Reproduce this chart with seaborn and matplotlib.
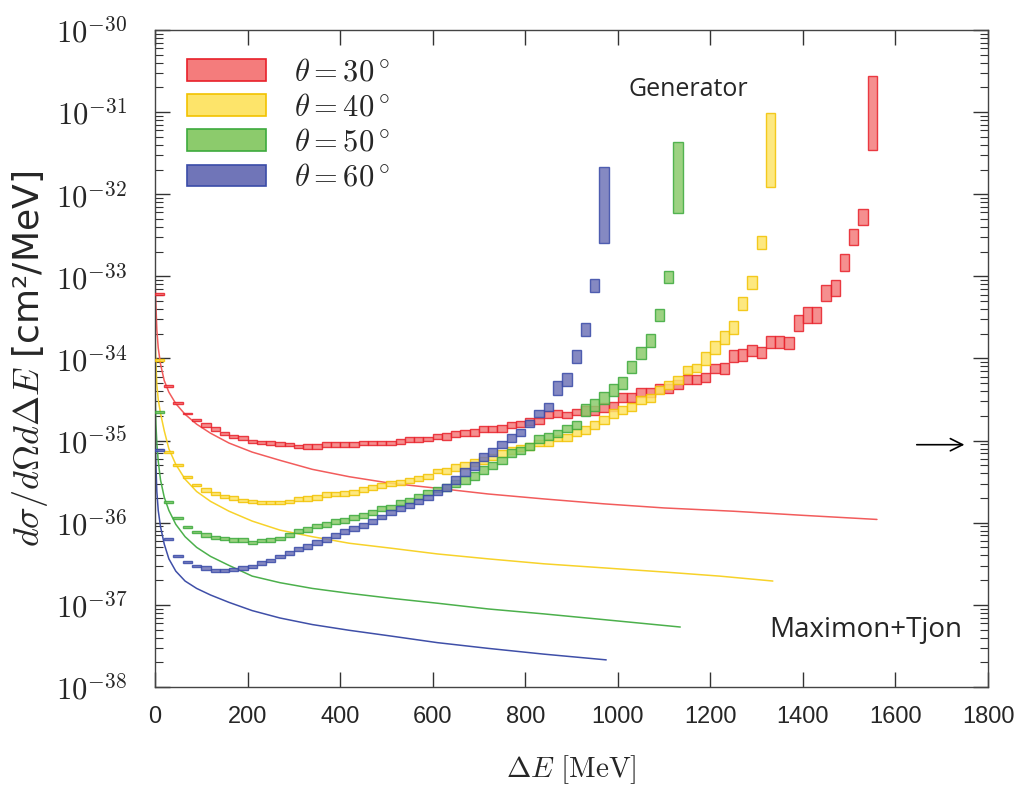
import numpy as np
import pandas as pd
import matplotlib
matplotlib.use("Agg")
import matplotlib.pyplot as plt
import seaborn as sns
from matplotlib.patches import Patch
from matplotlib.ticker import LogLocator, NullFormatter, FixedLocator

# ---------------- data ----------------
angles = [30, 40, 50, 60]
legend_labels = [r"$\theta = 30^\circ$", r"$\theta = 40^\circ$",
                 r"$\theta = 50^\circ$", r"$\theta = 60^\circ$"]
bin_width = 20.0  # MeV

# Generator: log10(dsigma/dOmega dDeltaE) per 20 MeV bin, starting at 0 MeV
gen_log_30 = [-33.22, -34.34, -34.54, -34.67, -34.75, -34.81, -34.86, -34.91, -34.95, -34.97,
              -35.01, -35.02, -35.03, -35.04, -35.05, -35.07, -35.07, -35.07, -35.05, -35.05,
              -35.05, -35.05, -35.03, -35.03, -35.03, -35.03, -35.01, -34.99, -34.99, -34.98,
              -34.95, -34.95, -34.92, -34.91, -34.90, -34.86, -34.86, -34.85, -34.81, -34.80,
              -34.77, -34.76, -34.68, -34.67, -34.69, -34.65, -34.63, -34.63, -34.60, -34.58,
              -34.48, -34.48, -34.41, -34.41, -34.36, -34.36, -34.32, -34.26, -34.26, -34.23,
              -34.12, -34.12, -33.97, -33.96, -33.90, -33.93, -33.80, -33.80, -33.81, -33.57,
              -33.47, -33.47, -33.20, -33.14, -32.83, -32.52, -32.28, -31.01]
gen_err_30 = ([0.012] * 5 + [0.02] * 11 + [0.028] * 15 + [0.04] * 15 + [0.055] * 15
              + [0.07] * 8 + [0.1] * 8 + [0.45])

gen_log_40 = [-34.02, -35.14, -35.30, -35.44, -35.54, -35.60, -35.64, -35.68, -35.70, -35.73,
              -35.74, -35.75, -35.75, -35.75, -35.74, -35.71, -35.70, -35.69, -35.66, -35.65,
              -35.64, -35.63, -35.60, -35.57, -35.55, -35.52, -35.51, -35.49, -35.46, -35.44,
              -35.37, -35.37, -35.33, -35.30, -35.27, -35.24, -35.20, -35.16, -35.12, -35.09,
              -35.07, -35.03, -35.02, -34.97, -34.96, -34.90, -34.87, -34.81, -34.75, -34.67,
              -34.63, -34.59, -34.51, -34.48, -34.38, -34.32, -34.26, -34.14, -34.12, -34.00,
              -33.87, -33.74, -33.62, -33.33, -33.08, -32.59, -31.46]
gen_err_40 = ([0.012] * 5 + [0.02] * 11 + [0.03] * 15 + [0.04] * 15 + [0.05] * 13
              + [0.08] * 7 + [0.45])

gen_log_50 = [-34.65, -35.75, -35.94, -36.05, -36.11, -36.15, -36.18, -36.19, -36.21, -36.21,
              -36.24, -36.22, -36.21, -36.19, -36.15, -36.10, -36.08, -36.04, -36.02, -35.99,
              -35.97, -35.94, -35.91, -35.88, -35.83, -35.81, -35.75, -35.73, -35.68, -35.63,
              -35.59, -35.57, -35.52, -35.48, -35.43, -35.36, -35.30, -35.24, -35.15, -35.12,
              -35.07, -34.98, -34.95, -34.91, -34.85, -34.81, -34.63, -34.57, -34.48, -34.38,
              -34.30, -34.10, -33.93, -33.78, -33.47, -33.01, -31.80]
gen_err_50 = ([0.012] * 5 + [0.02] * 11 + [0.03] * 15 + [0.045] * 15 + [0.075] * 10 + [0.43])

gen_log_60 = [-35.12, -36.20, -36.40, -36.48, -36.53, -36.55, -36.58, -36.58, -36.57, -36.55,
              -36.53, -36.49, -36.46, -36.41, -36.37, -36.32, -36.29, -36.24, -36.20, -36.15,
              -36.11, -36.07, -36.03, -35.98, -35.93, -35.88, -35.83, -35.79, -35.74, -35.69,
              -35.63, -35.57, -35.48, -35.38, -35.31, -35.20, -35.14, -35.05, -34.97, -34.90,
              -34.79, -34.67, -34.59, -34.36, -34.26, -33.98, -33.65, -33.11, -32.13]
gen_err_60 = ([0.012] * 5 + [0.02] * 11 + [0.03] * 15 + [0.045] * 12 + [0.08] * 5 + [0.46])

# Maximon+Tjon: energies [MeV] and log10 values
th_E_30 = [0.5, 1, 2, 4, 7, 12, 20, 30, 45, 65, 90, 120, 160, 210, 270, 340, 420, 510, 610,
           720, 840, 970, 1100, 1250, 1400, 1560]
th_log_30 = [-33.05, -33.2, -33.35, -33.65, -33.87, -34.07, -34.27, -34.41, -34.55, -34.68,
             -34.80, -34.91, -35.03, -35.14, -35.24, -35.35, -35.44, -35.52, -35.58, -35.65,
             -35.71, -35.77, -35.82, -35.86, -35.91, -35.96]
th_E_40 = [0.5, 1, 2, 4, 7, 12, 20, 30, 45, 65, 90, 120, 160, 210, 270, 340, 420, 510, 610,
           720, 840, 970, 1100, 1220, 1335]
th_log_40 = [-33.7, -33.88, -34.05, -34.32, -34.5, -34.67, -34.88, -35.1, -35.29, -35.47,
             -35.62, -35.74, -35.86, -35.98, -36.09, -36.17, -36.25, -36.31, -36.38, -36.44,
             -36.50, -36.55, -36.60, -36.65, -36.71]
th_E_50 = [0.5, 1, 2, 4, 7, 12, 20, 30, 45, 65, 90, 120, 160, 210, 270, 340, 420, 510, 610,
           720, 840, 970, 1135]
th_log_50 = [-34.4, -34.6, -34.8, -35.03, -35.25, -35.48, -35.69, -35.85, -36.02, -36.17,
             -36.30, -36.41, -36.52, -36.65, -36.73, -36.80, -36.86, -36.92, -36.98, -37.05,
             -37.11, -37.18, -37.27]
th_E_60 = [0.5, 1, 2, 4, 7, 12, 20, 30, 45, 65, 90, 120, 160, 210, 270, 340, 420, 510, 610,
           720, 840, 975]
th_log_60 = [-34.8, -35.05, -35.3, -35.62, -35.85, -36.05, -36.26, -36.44, -36.59, -36.71,
             -36.80, -36.88, -36.97, -37.07, -37.16, -37.24, -37.31, -37.38, -37.46, -37.53,
             -37.60, -37.67]

xticks = [0, 200, 400, 600, 800, 1000, 1200, 1400, 1600, 1800]
ytick_exponents = [-30, -31, -32, -33, -34, -35, -36, -37, -38]

# ---------------- styling ----------------
fill_colors = ["#f47c7c", "#fde46a", "#8ccb6c", "#7075b8"]
edge_colors = ["#e8202a", "#f2c200", "#3daa3d", "#3a4ba8"]
line_colors = ["#f25c5c", "#f7d22a", "#4cb04c", "#3f4fa8"]

sns.set_style("ticks")
plt.rcParams["mathtext.fontset"] = "cm"
plt.rcParams["font.family"] = ["DejaVu Sans"]

fig = plt.figure(figsize=(10.21, 7.93), dpi=100)
ax = fig.add_axes([0.1518, 0.1337, 0.8159, 0.8285])
ax.set_yscale("log")

gen_logs = [gen_log_30, gen_log_40, gen_log_50, gen_log_60]
gen_errs = [gen_err_30, gen_err_40, gen_err_50, gen_err_60]
for i in range(4):
    vals = np.array(gen_logs[i])
    errs = np.array(gen_errs[i])
    centers = bin_width * (np.arange(len(vals)) + 0.5)
    lo = 10.0 ** (vals - errs)
    hi = 10.0 ** (vals + errs)
    ax.bar(centers, hi - lo, bottom=lo, width=bin_width, color=fill_colors[i],
           edgecolor=edge_colors[i], linewidth=1.0, alpha=0.85, zorder=3 + i)

# theory lines via seaborn
frames = []
for a, E, L in zip(angles, [th_E_30, th_E_40, th_E_50, th_E_60],
                   [th_log_30, th_log_40, th_log_50, th_log_60]):
    frames.append(pd.DataFrame({"E": E, "sigma": 10.0 ** np.array(L), "angle": a}))
th_df = pd.concat(frames, ignore_index=True)
sns.lineplot(data=th_df, x="E", y="sigma", hue="angle", palette=line_colors,
             estimator=None, sort=True, linewidth=1.1, legend=False, ax=ax, zorder=2)

ax.set_xlim(0, 1800)
ax.set_ylim(1e-38, 1e-30)

ax.xaxis.set_major_locator(FixedLocator(xticks))
ax.set_xticklabels([str(t) for t in xticks], fontsize=17,
                   family=["Liberation Sans Narrow", "Liberation Sans", "DejaVu Sans"])
yt = [10.0 ** e for e in ytick_exponents]
ax.yaxis.set_major_locator(FixedLocator(yt))
ax.set_yticklabels([r"$10^{%d}$" % e for e in ytick_exponents], fontsize=22)
ax.yaxis.set_minor_locator(LogLocator(base=10, subs=np.arange(2, 10), numticks=50))
ax.yaxis.set_minor_formatter(NullFormatter())

ax.tick_params(axis="both", which="both", direction="in", top=True, right=True,
               color="#333333")
ax.tick_params(axis="both", which="major", length=11, width=1.0)
ax.tick_params(axis="both", which="minor", length=6, width=0.8)
ax.tick_params(axis="y", which="major", pad=20)
ax.tick_params(axis="x", which="major", pad=14)
for s in ax.spines.values():
    s.set_color("#444444")
    s.set_linewidth(1.0)

ax.set_xlabel(r"$\Delta E\ [\mathrm{MeV}]$", fontsize=21, labelpad=18)
ax.set_ylabel(r"$d\sigma/d\Omega d\Delta E$ [cm²/MeV]", fontsize=26,
              family=["DejaVu Sans"], labelpad=4)

handles = [Patch(facecolor=fill_colors[i], edgecolor=edge_colors[i], linewidth=1.2)
           for i in range(4)]
ax.legend(handles, legend_labels, loc="upper left", bbox_to_anchor=(0.038, 0.958),
          frameon=False, fontsize=22, handlelength=2.6, handleheight=0.7,
          labelspacing=0.2, handletextpad=0.9, borderpad=0.0, borderaxespad=0.0)

ax.text(1023, 10 ** -30.72, "Generator", fontsize=18, family=["Open Sans", "DejaVu Sans"],
        ha="left", va="center")
ax.text(1745, 10 ** -37.31, "Maximon+Tjon", fontsize=20, family=["Open Sans", "DejaVu Sans"],
        ha="right", va="center")
ax.annotate("", xy=(1755, 10 ** -35.05), xytext=(1640, 10 ** -35.05),
            arrowprops=dict(arrowstyle="->", color="black", lw=1.2, mutation_scale=22))

fig.savefig("out.png", dpi=100)
